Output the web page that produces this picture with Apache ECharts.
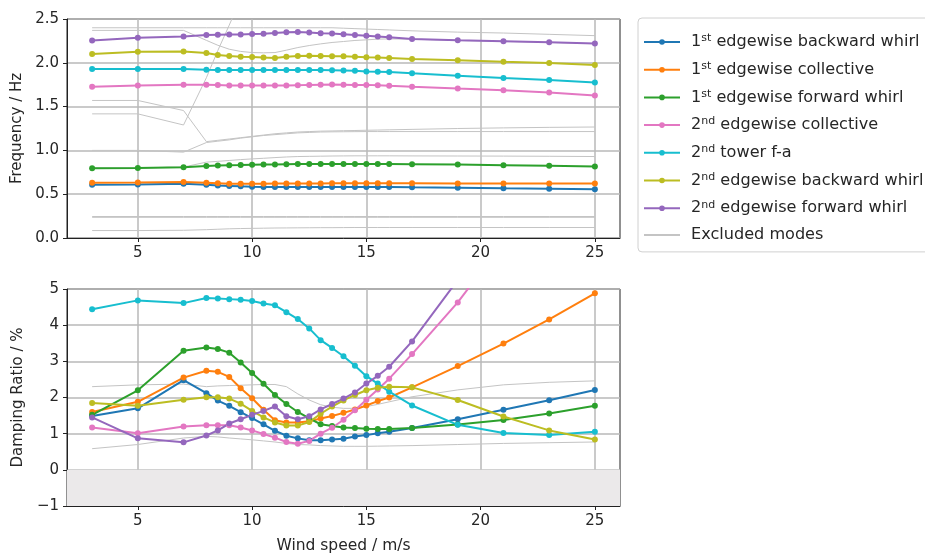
<!DOCTYPE html>
<html><head><meta charset="utf-8">
<script src="https://cdn.jsdelivr.net/npm/echarts@6/dist/echarts.min.js"></script>
<style>html,body{margin:0;padding:0;background:#fff}#c{width:925px;height:555px}</style>
</head><body><div id="c"></div>
<script>
const wind = [3,5,7,8,8.5,9,9.5,10,10.5,11,11.5,12,12.5,13,13.5,14,14.5,15,15.5,16,17,19,21,23,25];
const xTicks = [5,10,15,20,25];
const names = ['1st edgewise backward whirl','1st edgewise collective','1st edgewise forward whirl','2nd edgewise collective','2nd tower f-a','2nd edgewise backward whirl','2nd edgewise forward whirl'];
const exName = 'Excluded modes';

// Frequencies (Hz)
const fBW1 = [0.609,0.612,0.620,0.608,0.600,0.595,0.590,0.586,0.583,0.582,0.582,0.582,0.582,0.582,0.582,0.582,0.582,0.582,0.582,0.582,0.578,0.574,0.568,0.563,0.556];
const fCol1 = [0.631,0.634,0.640,0.630,0.625,0.620,0.618,0.618,0.620,0.621,0.622,0.622,0.623,0.623,0.624,0.624,0.624,0.624,0.624,0.624,0.624,0.623,0.622,0.622,0.621];
const fFW1 = [0.797,0.800,0.808,0.823,0.827,0.830,0.832,0.835,0.838,0.840,0.843,0.845,0.845,0.846,0.846,0.846,0.846,0.846,0.846,0.845,0.843,0.838,0.831,0.825,0.815];
const fCol2 = [1.727,1.742,1.750,1.750,1.747,1.742,1.742,1.742,1.740,1.740,1.742,1.745,1.748,1.750,1.752,1.750,1.748,1.748,1.745,1.738,1.727,1.707,1.688,1.661,1.627];
const fTow2 = [1.929,1.929,1.929,1.920,1.917,1.917,1.917,1.917,1.917,1.917,1.917,1.917,1.917,1.917,1.915,1.912,1.909,1.902,1.899,1.895,1.880,1.853,1.826,1.803,1.776];
const fBW2 = [2.100,2.125,2.128,2.113,2.090,2.078,2.070,2.067,2.060,2.055,2.070,2.078,2.080,2.078,2.075,2.074,2.070,2.063,2.060,2.055,2.044,2.029,2.013,1.998,1.975];
const fFW2 = [2.255,2.285,2.300,2.316,2.320,2.322,2.322,2.330,2.333,2.340,2.350,2.352,2.345,2.338,2.335,2.327,2.316,2.310,2.300,2.293,2.273,2.258,2.247,2.235,2.220];

// Excluded modes, frequency
const fEx1 = [2.40,2.40,2.40,2.40,2.40,2.40,2.40,2.40,2.40,2.40,2.40,2.40,2.40,2.40,2.40,2.395,2.39,2.385,2.38,2.375,2.365,2.35,2.34,2.325,2.31];
const fEx2 = [2.37,2.37,2.37,2.256,2.20,2.155,2.13,2.117,2.114,2.117,2.144,2.174,2.197,2.216,2.232,2.243,2.255,2.262,2.27,2.273,2.27,2.255,2.245,2.233,2.218];
const fEx3 = [1.417,1.417,1.29,1.83,2.14,2.43,2.73,null,null,null,null,null,null,null,null,null,null,null,null,null,null,null,null,null,null];
const fEx4 = [1.57,1.57,1.455,1.10,1.115,1.13,1.145,1.16,1.175,1.19,1.20,1.21,1.215,1.22,1.222,1.225,1.227,1.23,1.232,1.235,1.24,1.25,1.257,1.263,1.267];
const fEx5 = [1.0,1.0,0.98,1.09,1.105,1.12,1.14,1.155,1.17,1.18,1.19,1.20,1.205,1.21,1.212,1.213,1.214,1.215,1.215,1.215,1.215,1.215,1.215,1.215,1.215];
const fEx6 = [0.80,0.80,0.81,0.866,0.875,0.885,0.895,0.903,0.91,0.918,0.925,0.93,0.932,0.934,0.936,0.937,0.938,0.938,0.938,0.938,0.937,0.936,0.935,0.933,0.93];
const fEx7 = [0.245,0.245,0.245,0.245,0.245,0.245,0.245,0.245,0.245,0.245,0.245,0.245,0.245,0.245,0.245,0.245,0.245,0.245,0.245,0.245,0.245,0.245,0.245,0.245,0.245];
const fEx8 = [0.236,0.236,0.236,0.236,0.236,0.236,0.236,0.236,0.236,0.236,0.236,0.236,0.236,0.236,0.236,0.236,0.236,0.236,0.236,0.236,0.236,0.236,0.236,0.236,0.236];
const fEx9 = [0.085,0.085,0.088,0.095,0.100,0.105,0.108,0.110,0.112,0.114,0.115,0.116,0.117,0.118,0.118,0.119,0.120,0.120,0.120,0.120,0.120,0.120,0.120,0.120,0.120];

// Damping ratios (%)
const dBW1 = [1.49,1.70,2.48,2.12,1.915,1.77,1.595,1.43,1.26,1.08,0.945,0.87,0.82,0.82,0.84,0.86,0.92,0.96,1.01,1.05,1.155,1.40,1.66,1.925,2.21];
const dCol1 = [1.60,1.88,2.55,2.74,2.71,2.57,2.255,1.98,1.66,1.37,1.31,1.31,1.34,1.42,1.49,1.575,1.67,1.78,1.90,2.00,2.28,2.87,3.49,4.16,4.88];
const dFW1 = [1.52,2.20,3.29,3.38,3.34,3.24,2.97,2.68,2.38,2.07,1.82,1.60,1.42,1.26,1.21,1.17,1.155,1.135,1.13,1.13,1.155,1.255,1.375,1.56,1.77];
const dCol2 = [1.17,1.01,1.20,1.23,1.23,1.23,1.17,1.09,0.99,0.89,0.77,0.72,0.80,1.00,1.165,1.385,1.65,1.94,2.22,2.52,3.20,4.63,6.3,null,null];
const dTow2 = [4.44,4.685,4.61,4.75,4.74,4.72,4.70,4.67,4.60,4.55,4.36,4.17,3.91,3.585,3.37,3.14,2.875,2.59,2.385,2.16,1.78,1.245,1.02,0.96,1.05];
const dBW2 = [1.85,1.77,1.94,2.01,2.01,1.97,1.83,1.63,1.45,1.31,1.225,1.225,1.32,1.55,1.75,1.92,2.07,2.20,2.27,2.30,2.28,1.93,1.475,1.09,0.84];
const dFW2 = [1.45,0.87,0.76,0.95,1.09,1.28,1.40,1.52,1.63,1.75,1.48,1.40,1.48,1.67,1.82,1.97,2.14,2.385,2.60,2.85,3.55,5.25,null,null,null];

// Excluded modes, damping
const dEx1 = [2.30,2.35,2.37,2.30,2.32,2.33,2.34,2.35,2.36,2.36,2.30,2.10,1.93,1.80,1.73,1.70,1.70,1.75,1.81,1.88,2.02,2.21,2.35,2.42,2.46];
const dEx2 = [0.585,0.70,0.88,0.925,0.91,0.88,0.855,0.83,0.80,0.77,0.73,0.70,0.69,0.67,0.66,0.65,0.65,0.65,0.655,0.66,0.67,0.70,0.73,0.75,0.77];

const colors = ['#1f77b4','#ff7f0e','#2ca02c','#e377c2','#17becf','#bcbd22','#9467bd'];
const freqs = [fBW1,fCol1,fFW1,fCol2,fTow2,fBW2,fFW2];
const damps = [dBW1,dCol1,dFW1,dCol2,dTow2,dBW2,dFW2];
const fEx = [fEx1,fEx2,fEx3,fEx4,fEx5,fEx6,fEx7,fEx8,fEx9];
const dEx = [dEx1,dEx2];

const pair = a => wind.map((w,i) => [w, a[i]]);
const FONT = 'DejaVu Sans';
const TXT = '#262626';

const series = [];
fEx.forEach(a => series.push({name: exName, type:'line', xAxisIndex:0, yAxisIndex:0, data: pair(a), showSymbol:false, symbol:'none', lineStyle:{color:'#c4c4c4', width:1}, itemStyle:{color:'#c4c4c4'}, z:1, silent:true}));
dEx.forEach(a => series.push({name: exName, type:'line', xAxisIndex:1, yAxisIndex:1, data: pair(a), showSymbol:false, symbol:'none', lineStyle:{color:'#c4c4c4', width:1}, itemStyle:{color:'#c4c4c4'}, z:1, silent:true}));
names.forEach((n,k) => {
  series.push({name:n, type:'line', xAxisIndex:0, yAxisIndex:0, data: pair(freqs[k]), symbol:'circle', symbolSize:6, lineStyle:{color:colors[k], width:2}, itemStyle:{color:colors[k]}, z:3});
  series.push({name:n, type:'line', xAxisIndex:1, yAxisIndex:1, data: pair(damps[k]), symbol:'circle', symbolSize:6, lineStyle:{color:colors[k], width:2}, itemStyle:{color:colors[k]}, z:3});
});
// shaded negative-damping region
series.push({name:'neg', type:'line', xAxisIndex:1, yAxisIndex:1, data:[], markArea:{silent:true, itemStyle:{color:'#ebe9ea'}, data:[[{yAxis:-1},{yAxis:0}]]}, z:0});

const xAx = (gi, name) => ({
  type:'value', gridIndex:gi, min:1.9, max:26.1,
  name: name || '', nameLocation:'middle', nameGap:32,
  nameTextStyle:{fontFamily:FONT, fontSize:15.5, color:TXT},
  axisLine:{show:true, onZero:false, lineStyle:{color:'#222', width:1}},
  axisTick:{show:true, length:4, customValues:xTicks, lineStyle:{color:'#222'}},
  axisLabel:{customValues:xTicks, fontFamily:FONT, fontSize:15, color:TXT, margin:8},
  splitLine:{show:true, lineStyle:{color:'#b8b8b8', width:1.5}}
});
const yAx = (gi, o) => Object.assign({
  type:'value', gridIndex:gi, nameLocation:'middle', nameGap:41, nameRotate:90,
  nameTextStyle:{fontFamily:FONT, fontSize:15, color:TXT},
  axisLine:{show:true, onZero:false, lineStyle:{color:'#222', width:1}},
  axisTick:{show:true, length:4, lineStyle:{color:'#222'}},
  splitLine:{show:true, lineStyle:{color:'#b8b8b8', width:1.5}}
}, o);

const chart = echarts.init(document.getElementById('c'), null, {renderer:'canvas'});
chart.setOption({
  animation:false,
  backgroundColor:'#fff',
  grid:[
    {left:67, width:553, top:19, height:219, show:true, borderColor:'#222', borderWidth:1, backgroundColor:'transparent'},
    {left:67, width:553, top:289, height:218, show:true, borderColor:'#222', borderWidth:1, backgroundColor:'transparent'}
  ],
  xAxis:[xAx(0), xAx(1,'Wind speed / m/s')],
  yAxis:[
    yAx(0,{name:'Frequency / Hz', min:0, max:2.5, interval:0.5, axisLabel:{fontFamily:FONT, fontSize:15, color:TXT, margin:8, formatter:v=>v.toFixed(1)}}),
    yAx(1,{name:'Damping Ratio / %', min:-1, max:5, interval:1, axisLabel:{fontFamily:FONT, fontSize:15, color:TXT, margin:8, formatter:v=>String(v).replace('-','\u2212')}})
  ],
  legend:{
    orient:'vertical', left:638, top:18,
    data: names.concat([{name: exName, itemStyle:{opacity:0}}]),
    itemWidth:36, itemHeight:7, itemGap:10.7,
    padding:[15,8,9,5],
    borderColor:'#d0d0d0', borderWidth:1, borderRadius:4, backgroundColor:'#fff',
    textStyle:{fontFamily:FONT, fontSize:16.1, color:TXT,
      rich:{n:{fontFamily:FONT, fontSize:16.1, color:TXT, lineHeight:18}, g:{width:6, lineHeight:18}, s:{fontFamily:FONT, fontSize:11, color:TXT, lineHeight:11, verticalAlign:'top'}}},
    formatter: function(n){
      const m = n.match(/^(\d)(st|nd)( .*)$/);
      if(!m) return '{g|}{n|' + n + '}';
      return '{g|}{n|' + m[1] + '}{s|' + m[2] + '}{n|' + m[3] + '}';
    }
  },
  series: series
});
</script></body></html>
